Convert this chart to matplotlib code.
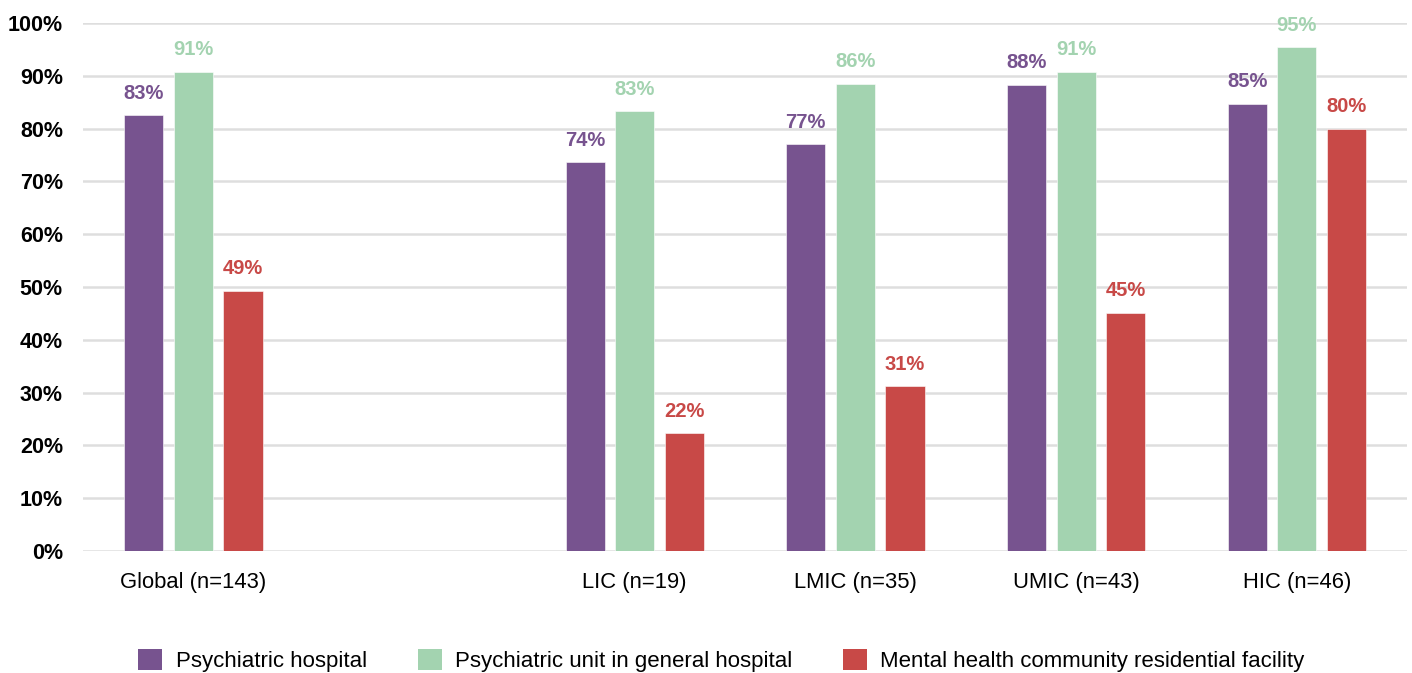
import matplotlib
matplotlib.use("Agg")
import matplotlib.pyplot as plt
from matplotlib.patches import Patch
import numpy as np

plt.rcParams['font.family'] = ['Liberation Sans', 'DejaVu Sans']

categories = ["Global (n=143)", "", "LIC (n=19)", "LMIC (n=35)", "UMIC (n=43)", "HIC (n=46)"]
series_names = ["Psychiatric hospital", "Psychiatric unit in general hospital",
                "Mental health community residential facility"]
psych_hospital = [82.5, None, 73.6, 77.0, 88.3, 84.7]
psych_unit = [90.7, None, 83.3, 88.5, 90.7, 95.4]
community_res = [49.3, None, 22.3, 31.2, 45.1, 80.0]
psych_hospital_labels = ["83%", "", "74%", "77%", "88%", "85%"]
psych_unit_labels = ["91%", "", "83%", "86%", "91%", "95%"]
community_res_labels = ["49%", "", "22%", "31%", "45%", "80%"]
y_ticks = [0, 10, 20, 30, 40, 50, 60, 70, 80, 90, 100]

colors = ["#77538F", "#A3D3B0", "#C84947"]

fig = plt.figure(figsize=(14.12, 6.73), dpi=100)
ax = fig.add_axes([0.0588, 0.1813, 0.9377, 0.7845])

x = np.arange(len(categories))
width = 0.177
offsets = [-0.225, 0.0, 0.225]
all_vals = [psych_hospital, psych_unit, community_res]
all_labels = [psych_hospital_labels, psych_unit_labels, community_res_labels]

for vals, labs, off, col in zip(all_vals, all_labels, offsets, colors):
    xs = [xi + off for xi, v in zip(x, vals) if v is not None]
    vs = [v for v in vals if v is not None]
    ls = [l for l, v in zip(labs, vals) if v is not None]
    ax.bar(xs, vs, width=width, color=col, zorder=3, edgecolor="white", linewidth=0.4)
    for xi, v, l in zip(xs, vs, ls):
        ax.text(xi, v + 2.4, l, ha="center", va="bottom", color=col,
                fontsize=14.5, fontweight="bold")

ax.set_xlim(-0.5, len(categories) - 0.5)
ax.set_ylim(0, 100)
ax.set_yticks(y_ticks)
ax.set_yticklabels([f"{t}%" for t in y_ticks], fontsize=15.5, fontweight="bold")
ax.set_xticks(x)
ax.set_xticklabels(categories, fontsize=15.8)
ax.tick_params(axis="both", length=0)
ax.tick_params(axis="y", pad=14.5)
ax.tick_params(axis="x", pad=15)
ax.grid(axis="y", color="#DEDEDE", linewidth=1.8, zorder=0)
for s in ax.spines.values():
    s.set_visible(False)

handles = [Patch(facecolor=c, edgecolor="none") for c in colors]
fig.legend(handles, series_names, loc="center", bbox_to_anchor=(0.511, 0.019),
           bbox_transform=fig.transFigure, ncol=3, frameon=False, fontsize=16,
           handlelength=1.08, handleheight=1.08, handletextpad=0.59, columnspacing=2.3,
           borderpad=0)

fig.savefig("out.png", dpi=100)
